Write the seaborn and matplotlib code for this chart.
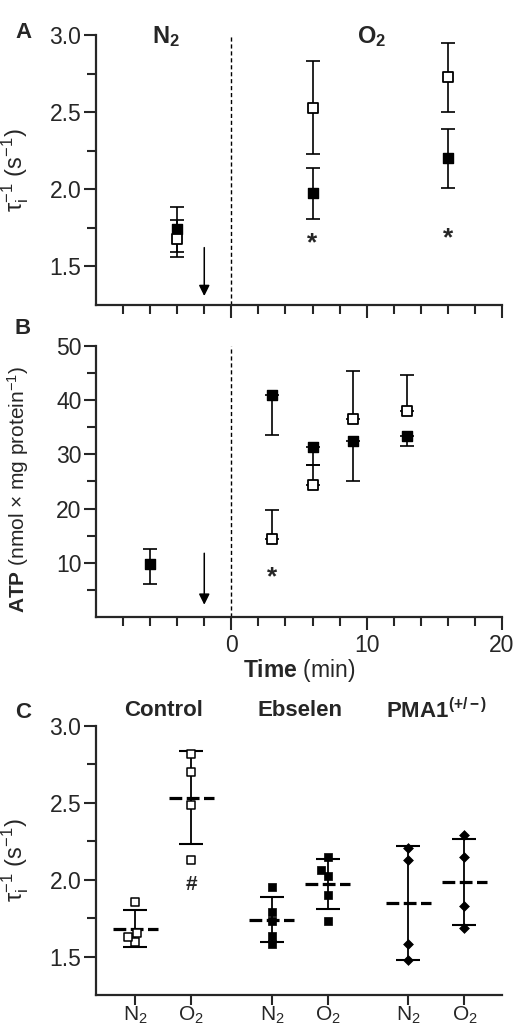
import numpy as np
import pandas as pd
import seaborn as sns
import matplotlib
matplotlib.use("Agg")
import matplotlib.pyplot as plt
from matplotlib import transforms

# ---- panel A: tau_i^-1 (s^-1) vs time, mean +/- SD
time_a = [-4, 6, 16]
tau_ctrl = [1.68, 2.53, 2.725]
tau_ctrl_sd = [0.12, 0.30, 0.225]
tau_ebs = [1.74, 1.975, 2.20]
tau_ebs_sd = [0.145, 0.165, 0.19]
star_a_x = [6, 16]
star_a_y = [1.65, 1.68]

# ---- panel B: ATP vs time
time_b_filled = [-6, 3, 6, 9, 13]
atp_filled = [9.8, 41.0, 31.3, 32.4, 33.3]
atp_filled_lo = [3.6, 7.4, 3.3, 7.4, 1.7]
atp_filled_hi = [2.8, 0, 0, 0, 0]
time_b_open = [3, 6, 9, 13]
atp_open = [14.5, 24.4, 36.5, 37.9]
atp_open_hi = [5.2, 3.6, 8.8, 6.7]
star_b_x = [3]
star_b_y = [7.3]

# ---- panel C: individual tau_i^-1 values
groups = ["Control", "Ebselen", "PMA1"]
ctrl_n2 = [1.856, 1.650, 1.592, 1.628]
ctrl_o2 = [2.816, 2.700, 2.483, 2.130]
ebs_n2 = [1.953, 1.790, 1.734, 1.635, 1.580]
ebs_o2 = [2.150, 2.060, 2.026, 1.897, 1.728]
pma_n2 = [2.204, 2.130, 1.580, 1.476]
pma_o2 = [2.288, 2.150, 1.826, 1.685]

sns.set_style("ticks")
plt.rcParams["font.family"] = ["Liberation Sans", "DejaVu Sans"]
plt.rcParams["mathtext.fontset"] = "custom"
plt.rcParams["mathtext.rm"] = "Liberation Sans"
plt.rcParams["mathtext.it"] = "Liberation Sans:italic"
plt.rcParams["mathtext.bf"] = "Liberation Sans:bold"

W, H = 516, 1033
fig = plt.figure(figsize=(W / 100, H / 100), dpi=100)


def box(top, bottom, left=96, right=502):
    return [left / W, 1 - bottom / H, (right - left) / W, (bottom - top) / H]


axA = fig.add_axes(box(35, 305))
axB = fig.add_axes(box(345.7, 617.3))
axC = fig.add_axes(box(725.7, 995))

TICK_FS = 16.5


def style(ax):
    sns.despine(ax=ax)
    for s in ["left", "bottom"]:
        ax.spines[s].set_linewidth(1.6)
    ax.tick_params(which="major", length=9, width=1.5, labelsize=TICK_FS, pad=1.5)
    ax.tick_params(which="minor", length=6.5, width=1.5)
    ax.tick_params(axis="x", which="major", pad=3)


def time_axis(ax, labels):
    ax.set_xlim(-10, 20)
    ax.set_xticks([0, 10, 20])
    ax.set_xticks(np.arange(-8, 20, 2), minor=True)
    if not labels:
        ax.set_xticklabels([])


tau_label = "\u03c4$_{\\mathregular{i}}^{\\mathregular{-1}}$ (s$^{\\mathregular{-1}}$)"

# ---------------- panel A
style(axA)
axA.axvline(0, color="black", lw=1, ls=(0, (3, 2)), zorder=1)
axA.errorbar(time_a, tau_ctrl, yerr=tau_ctrl_sd, fmt="none", ecolor="black",
             elinewidth=1.2, capsize=5, capthick=1.2, zorder=2)
axA.errorbar(time_a, tau_ebs, yerr=tau_ebs_sd, fmt="none", ecolor="black",
             elinewidth=1.2, capsize=5, capthick=1.2, zorder=2)
sns.scatterplot(x=time_a, y=tau_ebs, marker="s", s=60, color="black",
                edgecolor="black", linewidth=1, zorder=3, ax=axA, legend=False)
sns.scatterplot(x=time_a, y=tau_ctrl, marker="s", s=60, color="white",
                edgecolor="black", linewidth=1.3, zorder=4, ax=axA, legend=False)
for x, y in zip(star_a_x, star_a_y):
    axA.text(x, y, "*", ha="center", va="center", fontsize=19, fontweight="bold")
axA.annotate("", xy=(-2, 1.29), xytext=(-2, 1.64),
             arrowprops=dict(arrowstyle="-|>", color="black", lw=1.1, mutation_scale=16))
time_axis(axA, False)
axA.set_ylim(1.25, 3.0)
axA.set_yticks([1.5, 2.0, 2.5, 3.0])
axA.set_yticks([1.75, 2.25, 2.75], minor=True)
axA.set_yticklabels(["1.5", "2.0", "2.5", "3.0"])
axA.set_ylabel(tau_label, fontsize=17)
axA.yaxis.set_label_coords(-0.16, 0.5)
tA = transforms.blended_transform_factory(axA.transData, axA.transAxes)
axA.text(-4.8, 0.995, r"N$_{\mathregular{2}}$", transform=tA, ha="center", va="center",
         fontsize=17, fontweight="bold")
axA.text(10.4, 0.995, r"O$_{\mathregular{2}}$", transform=tA, ha="center", va="center",
         fontsize=17, fontweight="bold")

# ---------------- panel B
style(axB)
axB.axvline(0, color="black", lw=1, ls=(0, (3, 2)), zorder=1)
axB.errorbar(time_b_filled, atp_filled, yerr=[atp_filled_lo, atp_filled_hi], fmt="none",
             ecolor="black", elinewidth=1.2, capsize=5, capthick=1.2, zorder=2)
axB.errorbar(time_b_open, atp_open, yerr=[[0] * len(atp_open), atp_open_hi], fmt="none",
             ecolor="black", elinewidth=1.2, capsize=5, capthick=1.2, zorder=2)
sns.scatterplot(x=time_b_filled, y=atp_filled, marker="s", s=60, color="black",
                edgecolor="black", linewidth=1, zorder=3, ax=axB, legend=False)
sns.scatterplot(x=time_b_open, y=atp_open, marker="s", s=60, color="white",
                edgecolor="black", linewidth=1.3, zorder=4, ax=axB, legend=False)
for x, y in zip(star_b_x, star_b_y):
    axB.text(x, y, "*", ha="center", va="center", fontsize=19, fontweight="bold")
axB.annotate("", xy=(-2, 1.8), xytext=(-2, 12.3),
             arrowprops=dict(arrowstyle="-|>", color="black", lw=1.1, mutation_scale=16))
time_axis(axB, True)
axB.set_ylim(0, 50)
axB.set_yticks([10, 20, 30, 40, 50])
axB.set_yticks([5, 15, 25, 35, 45], minor=True)
axB.set_ylabel(r"$\mathbf{ATP}$ (nmol $\times$ mg protein$^{\mathregular{-1}}$)", fontsize=15)
axB.yaxis.set_label_coords(-0.16, 0.47)
axB.set_xlabel(r"$\mathbf{Time}$ (min)", fontsize=16.5, labelpad=0)

# ---------------- panel C
x_pos = [0, 1, 2.44, 3.44, 4.88, 5.88]
series = [ctrl_n2, ctrl_o2, ebs_n2, ebs_o2, pma_n2, pma_o2]
rows = []
for i, vals in enumerate(series):
    for v in vals:
        rows.append({"group": groups[i // 2], "gas": ["N2", "O2"][i % 2],
                     "pos": x_pos[i], "tau": v})
dfC = pd.DataFrame(rows)

style(axC)
axC.tick_params(axis="x", which="major", pad=0, length=7, labelsize=15)
stats = dfC.groupby("pos")["tau"].agg(["mean", "std"]).reset_index()
axC.errorbar(stats["pos"], stats["mean"], yerr=stats["std"], fmt="none", ecolor="black",
             elinewidth=1.3, capsize=8.5, capthick=1.5, zorder=2)
axC.hlines(stats["mean"], stats["pos"] - 0.4, stats["pos"] + 0.4, colors="black",
           lw=2.3, linestyles=(0, (4, 1.4)), zorder=2)

marker_style = {
    "Control": dict(marker="s", size=5.5, color="white", edgecolor="black", linewidth=1.1),
    "Ebselen": dict(marker="s", size=5.5, color="black", edgecolor="black", linewidth=0.5),
    "PMA1": dict(marker="D", size=5, color="black", edgecolor="black", linewidth=0.5),
}
for g in groups:
    sub = dfC[dfC["group"] == g]
    sns.swarmplot(data=sub, x="pos", y="tau", native_scale=True, ax=axC,
                  zorder=3, **marker_style[g])

axC.set_xlim(-0.70, 6.55)
axC.set_xticks(x_pos)
axC.set_xticklabels([r"N$_{\mathregular{2}}$", r"O$_{\mathregular{2}}$"] * 3)
axC.set_ylim(1.25, 3.0)
axC.set_yticks([1.5, 2.0, 2.5, 3.0])
axC.set_yticks([1.75, 2.25, 2.75], minor=True)
axC.set_yticklabels(["1.5", "2.0", "2.5", "3.0"])
axC.set_xlabel("")
axC.set_ylabel(tau_label, fontsize=17)
axC.yaxis.set_label_coords(-0.16, 0.5)
axC.text(1, 2.03, "#", ha="center", va="top", fontsize=15, fontweight="bold")
tC = transforms.blended_transform_factory(axC.transData, axC.transAxes)
group_labels = ["Control", "Ebselen", r"PMA1$^{\mathregular{(+/-)}}$"]
for k, lab in enumerate(group_labels):
    cx = (x_pos[2 * k] + x_pos[2 * k + 1]) / 2
    axC.text(cx, 1.055, lab, transform=tC, ha="center", va="center",
             fontsize=16, fontweight="bold")

# panel letters
for letter, y in [("A", 33), ("B", 328), ("C", 713)]:
    fig.text(23 / W, 1 - y / H, letter, ha="center", va="center",
             fontsize=16, fontweight="bold")

fig.savefig("out.png", dpi=100)
